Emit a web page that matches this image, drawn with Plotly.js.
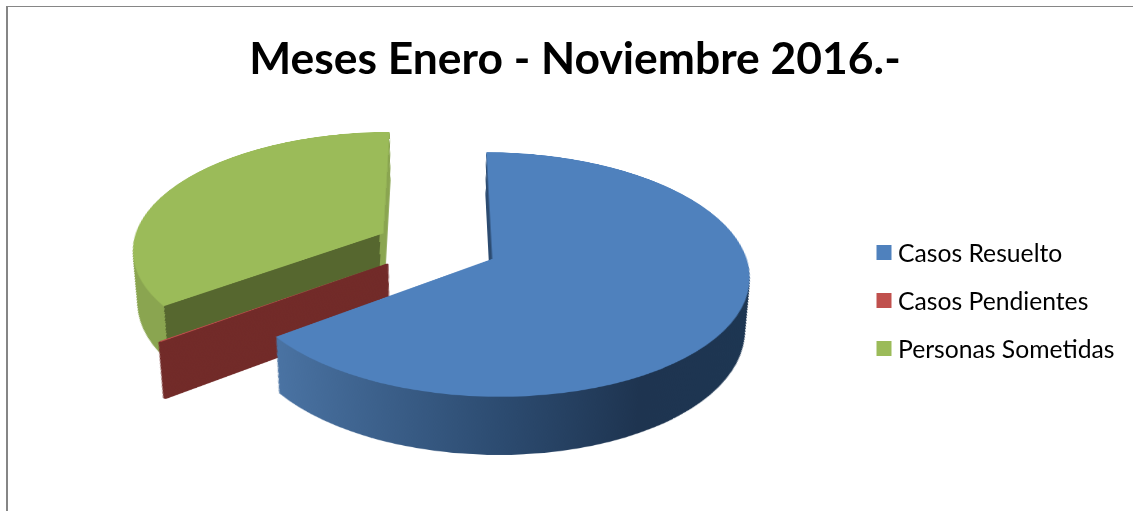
<!DOCTYPE html>
<html><head><meta charset="utf-8">
<script src="https://cdn.plot.ly/plotly-3.0.1.min.js"></script>
<style>
html,body{margin:0;padding:0;background:#fff;overflow:hidden;width:1133px;height:511px}
#frame{position:absolute;left:6px;top:6px;width:2000px;height:2000px;border-left:2px solid #868686;border-top:1px solid #868686}
#clip{position:absolute;left:0;top:0;width:1133px;height:511px;overflow:hidden}
text{font-variant-ligatures:none}
</style></head><body>
<div id="clip"><div id="frame"></div><div id="plot"></div></div>
<script>
const chartTitle = "Meses Enero - Noviembre 2016.-";
const labels = ["Casos Resuelto", "Casos Pendientes", "Personas Sometidas"];
const values = [64.8, 0.1, 35.1];
const faceColors = ["#4f81bd", "#c0504d", "#9bbb59"];
const explode = [0.243, 0.243, 0.243];

// viewing geometry of the tilted, extruded pie
const W = 1133, H = 1000, R = 251, CX = 437, OX = 440, OY = 400, SCREEN_Y = 246;
const TILT = 62.2, PERSP = 1773, DEPTH = 0.068, LAYERS = 46;
const FOOT_Y = OY + PERSP * Math.sin(TILT * Math.PI / 180);

function domainAt(t) {
  const half = R * t * (1 + Math.max(...explode));
  const cx = OX + (CX - OX) * t, cy = FOOT_Y + (OY - FOOT_Y) * t;
  return { x: [(cx - half) / W, (cx + half) / W], y: [1 - (cy + half) / H, 1 - (cy - half) / H] };
}
function pieLayer(t, colors, legend, lineWidths) {
  return { type: "pie", labels, values, pull: explode, sort: false, direction: "clockwise", rotation: 0,
    textinfo: "none", hoverinfo: "none", showlegend: legend,
    marker: { colors, line: { width: lineWidths, color: colors } }, domain: domainAt(t) };
}
const traces = [];
for (let i = LAYERS; i >= 1; i--) traces.push(pieLayer(1 - DEPTH * i / LAYERS, ["#2c4b70", "#722b29", "#56672f"], false, [0, 3, 0]));
traces.push(pieLayer(1, faceColors, true, [0, 0, 0]));

const layout = {
  width: W, height: H, margin: { l: 0, r: 0, t: 0, b: 0 },
  paper_bgcolor: "rgba(0,0,0,0)",
  title: { text: "<b>" + chartTitle + "</b>", x: 575 / W, xanchor: "center", xref: "paper",
           y: 1 - 58.5 / H, yanchor: "middle", yref: "container",
           font: { family: "Lato", size: 44.4, color: "#000" } },
  legend: { x: 858 / W, y: 1 - 232 / H, xanchor: "left", yanchor: "top", font: { family: "Lato", size: 24.7, color: "#000" }, bgcolor: "rgba(0,0,0,0)" }
};

function addGradient(defs, id, stops) {
  const NS = "http://www.w3.org/2000/svg";
  const g = document.createElementNS(NS, "linearGradient");
  g.setAttribute("id", id); g.setAttribute("x1", "0"); g.setAttribute("x2", "1"); g.setAttribute("y1", "0"); g.setAttribute("y2", "0");
  stops.forEach(s => { const e = document.createElementNS(NS, "stop"); e.setAttribute("offset", s[0]); e.setAttribute("stop-color", s[1]); g.appendChild(e); });
  defs.appendChild(g);
}

Plotly.newPlot("plot", traces, layout, { displayModeBar: false, staticPlot: true }).then(gd => {
  const base = gd.querySelector("svg.main-svg");
  const NS = "http://www.w3.org/2000/svg";
  let defs = base.querySelector("defs");
  if (!defs) { defs = document.createElementNS(NS, "defs"); base.insertBefore(defs, base.firstChild); }
  addGradient(defs, "wallBlue", [[0, "#4a73a3"], [0.45, "#2c4b70"], [0.72, "#1e3450"], [1, "#1d3652"]]);
  const cornerFrac = 1 - Math.sin(2 * Math.PI * values[2] / values.reduce((a, b) => a + b, 0));
  addGradient(defs, "wallGreen", [[0, "#8aa550"], [cornerFrac, "#8aa550"], [cornerFrac, "#56672f"], [0.985, "#56672f"], [0.985, "#8aa550"], [1, "#8aa550"]]);
  const groups = base.querySelectorAll(".pielayer .trace");
  groups.forEach((g, i) => {
    if (i === groups.length - 1) return;
    const s = g.querySelectorAll(".slice path.surface");
    s[0].style.fill = "url(#wallBlue)";
    s[2].style.fill = "url(#wallGreen)";
  });
  base.style.transformOrigin = OX + "px " + OY + "px";
  base.style.transform = "translateY(" + (SCREEN_Y - OY) + "px) perspective(" + PERSP + "px) rotateX(" + TILT + "deg)";

  // legend spacing and swatch size of the reference
  const leg = gd.querySelector(".legend");
  if (leg) {
    const sb = leg.querySelector(".scrollbox");
    if (sb) sb.removeAttribute("clip-path");
    leg.querySelectorAll(".traces").forEach((t, i) => {
      t.setAttribute("transform", "translate(0," + (20.5 + i * 48) + ")");
      t.querySelectorAll(".legendpoints path").forEach(p => p.setAttribute("d", "M13.5,7.5V-7.5H-1.5V7.5Z"));
    });
  }
});
</script>
</body></html>
